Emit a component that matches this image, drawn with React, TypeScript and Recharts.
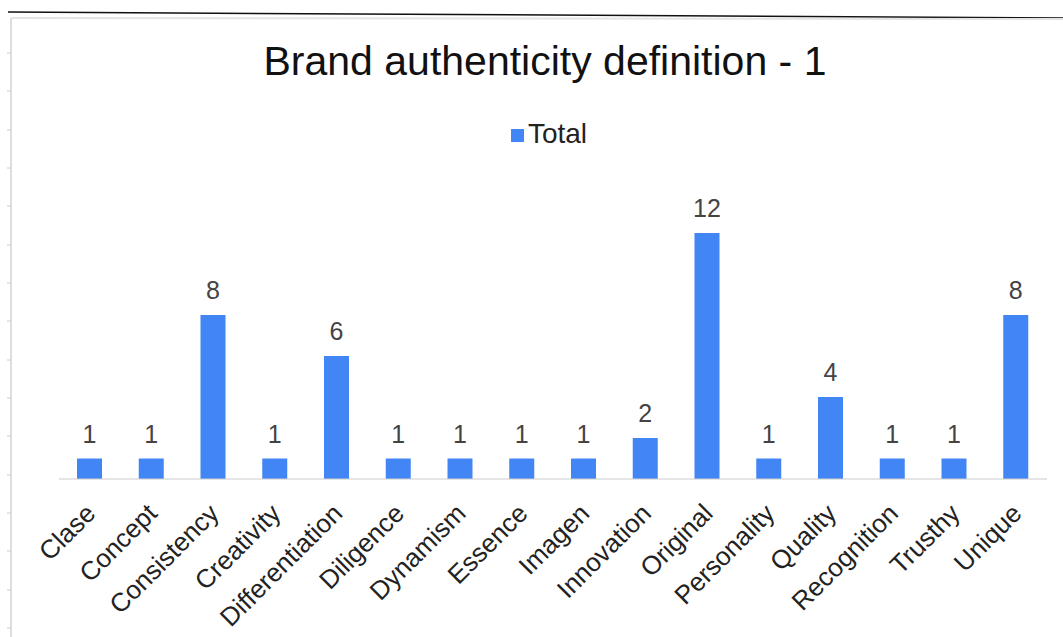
import React from "react";
import { BarChart, Bar, XAxis, YAxis, Legend, LabelList } from "recharts";

const categories = ["Clase", "Concept", "Consistency", "Creativity", "Differentiation", "Diligence", "Dynamism", "Essence", "Imagen", "Innovation", "Original", "Personality", "Quality", "Recognition", "Trusthy", "Unique"];
const totals = [1, 1, 8, 1, 6, 1, 1, 1, 1, 2, 12, 1, 4, 1, 1, 8];
const title = "Brand authenticity definition - 1";
const seriesName = "Total";

const data = categories.map((c, i) => ({ name: c, Total: totals[i] }));

const FONT = "'Liberation Sans', Arial, sans-serif";

const Tick = (props: any) => {
  const { x, y, payload } = props;
  return (
    <g transform={`translate(${x + 7},${y + 28})`}>
      <text transform="rotate(-45)" textAnchor="end" fontSize={26} fill="#222" fontFamily={FONT}>
        {payload.value}
      </text>
    </g>
  );
};

const leftTicks = [53, 91, 130, 168, 206, 245, 283, 321, 360, 398, 436, 475, 513, 551, 590, 628];

export default function App() {
  return (
    <div style={{ position: "absolute", left: 0, top: 0, width: 1063, height: 637, background: "#fff", overflow: "hidden" }}>
      <svg width={1063} height={637} style={{ position: "absolute", left: 0, top: 0 }}>
        <line x1={8} y1={12} x2={1063} y2={18} stroke="#111" strokeWidth={1.5} />
        <line x1={11} y1={18} x2={1063} y2={19} stroke="#e4e4e4" strokeWidth={2} />
        <line x1={11} y1={18} x2={11} y2={637} stroke="#ddd" strokeWidth={2} />
        {leftTicks.map((t) => (
          <line key={t} x1={7} y1={t} x2={11} y2={t} stroke="#ccc" strokeWidth={1} />
        ))}
      </svg>
      <div style={{ position: "absolute", left: 12, top: 38, width: 1066, textAlign: "center", fontFamily: FONT, fontSize: 41, color: "#111", whiteSpace: "nowrap" }}>
        {title}
      </div>
      <div style={{ position: "absolute", left: 0, top: 0 }}>
        <BarChart width={1063} height={637} data={data} margin={{ top: 201, right: 16, left: 59, bottom: 0 }}>
          <XAxis dataKey="name" interval={0} height={158} tick={<Tick />} tickLine={false} axisLine={{ stroke: "#ccc" }} />
          <YAxis hide domain={[0, 12]} />
          <Legend
            verticalAlign="top"
            iconType="square"
            iconSize={13}
            wrapperStyle={{ position: "absolute", top: 118, left: 0, width: 1108, fontFamily: FONT, fontSize: 28, color: "#222" }}
            formatter={(v: string) => <span style={{ color: "#222" }}>{v}</span>}
          />
          <Bar dataKey="Total" name={seriesName} fill="#4285F4" barSize={25} isAnimationActive={false}>
            <LabelList dataKey="Total" position="top" offset={16} fill="#444" fontSize={25} fontFamily={FONT} />
          </Bar>
        </BarChart>
      </div>
    </div>
  );
}
